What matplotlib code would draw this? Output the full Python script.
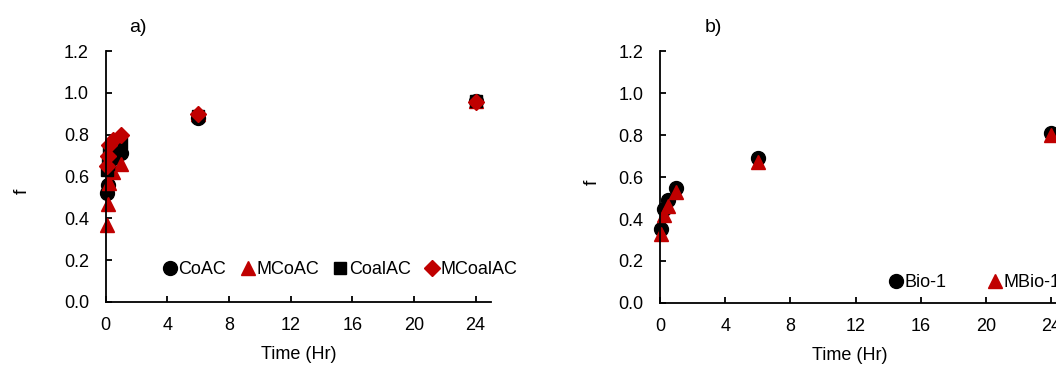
#!/usr/bin/env python3
import matplotlib
matplotlib.use('Agg')
import matplotlib.pyplot as plt

plt.rcParams['font.family'] = ['Liberation Sans', 'DejaVu Sans']
plt.rcParams['font.size'] = 13

RED = '#c00000'

# sampling times (hours)
t_a = [0.083, 0.167, 0.25, 0.5, 1, 6, 24]
t_b = [0.083, 0.25, 0.5, 1, 6, 24]

# panel a) fractional uptake
coac = [0.52, 0.56, 0.64, 0.69, 0.71, 0.88, 0.96]
mcoac = [0.37, 0.47, 0.57, 0.62, 0.66, 0.90, 0.96]
coalac = [0.63, 0.66, 0.72, 0.74, 0.76, 0.89, 0.96]
mcoalac = [0.65, 0.70, 0.75, 0.775, 0.80, 0.90, 0.955]

# panel b)
bio1 = [0.35, 0.45, 0.49, 0.55, 0.69, 0.81]
mbio1 = [0.33, 0.42, 0.46, 0.53, 0.67, 0.80]

fig = plt.figure(figsize=(10.56, 3.65), dpi=100)
ax_a = fig.add_axes([0.100, 0.173, 0.365, 0.687])
ax_b = fig.add_axes([0.625, 0.170, 0.386, 0.690])

def style_axis(ax):
    ax.set_xlim(0, 25)
    ax.set_ylim(0, 1.2)
    ax.set_xticks([0, 4, 8, 12, 16, 20, 24])
    ax.set_yticks([0, 0.2, 0.4, 0.6, 0.8, 1.0, 1.2])
    ax.set_yticklabels([f'{v:.1f}' for v in ax.get_yticks()])
    ax.spines['top'].set_visible(False)
    ax.spines['right'].set_visible(False)
    for s in ('left', 'bottom'):
        ax.spines[s].set_linewidth(1.3)
    ax.tick_params(direction='in', length=4, width=1.3, labelsize=13)
    ax.tick_params(axis='y', pad=12)
    ax.tick_params(axis='x', pad=11)
    ax.set_xlabel('Time (Hr)', fontsize=13)
    ax.set_ylabel('f', fontsize=14)

ms = 10
ax_a.plot(t_a, coac, 'o', color='black', ms=ms, label='CoAC', clip_on=False)
ax_a.plot(t_a, mcoac, '^', color=RED, ms=ms, label='MCoAC', clip_on=False)
ax_a.plot(t_a, coalac, 's', color='black', ms=ms - 1, label='CoalAC', clip_on=False)
ax_a.plot(t_a, mcoalac, 'D', color=RED, ms=ms - 2, label='MCoalAC', clip_on=False)
style_axis(ax_a)
ax_a.xaxis.set_label_coords(0.5, -0.175)
ax_a.yaxis.set_label_coords(-0.195, 0.44)
ax_a.legend(loc='center left', bbox_to_anchor=(0.154, 0.262), bbox_transform=fig.transFigure,
            ncol=4, frameon=False, borderpad=0, handlelength=0.8, handletextpad=0.08,
            columnspacing=0.78, fontsize=13, borderaxespad=0)

ax_b.plot(t_b, bio1, 'o', color='black', ms=ms, label='Bio-1', clip_on=False)
ax_b.plot(t_b, mbio1, '^', color=RED, ms=ms, label='MBio-1', clip_on=False)
style_axis(ax_b)
ax_b.xaxis.set_label_coords(0.466, -0.175)
ax_b.yaxis.set_label_coords(-0.145, 0.48)
ax_b.legend(loc='center left', bbox_to_anchor=(0.842, 0.225), bbox_transform=fig.transFigure,
            ncol=2, frameon=False, borderpad=0, handlelength=0.8, handletextpad=0.05,
            columnspacing=2.3, fontsize=13, borderaxespad=0)

fig.text(0.122, 0.926, 'a)', fontsize=14, va='center', ha='left')
fig.text(0.667, 0.926, 'b)', fontsize=14, va='center', ha='left')

fig.savefig('out.png', dpi=100)
